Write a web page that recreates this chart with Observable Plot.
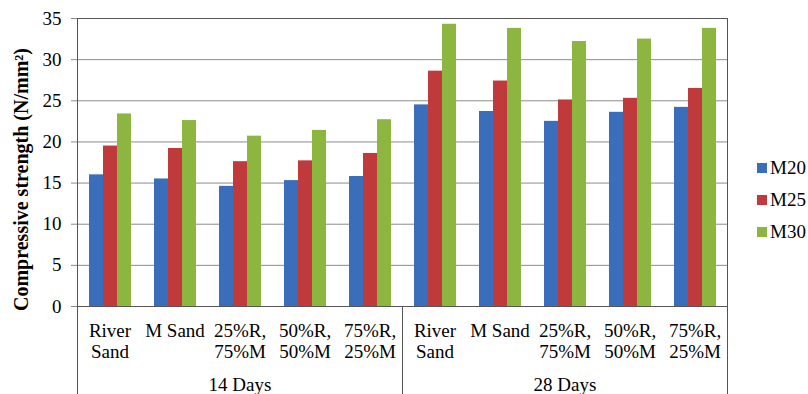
<!DOCTYPE html>
<html><head><meta charset="utf-8">
<script src="https://cdn.jsdelivr.net/npm/d3@7"></script>
<script src="https://cdn.jsdelivr.net/npm/@observablehq/plot@0.6"></script>
<style>
body{margin:0;background:#fff;}
#wrap{position:relative;width:808px;height:394px;overflow:hidden;}
#legend{position:absolute;left:757px;top:152px;font-size:19px;font-family:'Liberation Serif';color:#000;}
.row{display:flex;align-items:center;height:32px;}
.sw{width:10px;height:10px;margin-right:3px;flex:none;}
svg text{font-family:'Liberation Serif';}
</style></head><body><div id="wrap"></div>
<script>
const groups = ["14 Days", "28 Days"];
const categories = ["River\nSand", "M Sand", "25%R,\n75%M", "50%R,\n50%M", "75%R,\n25%M"];
const series = ["M20", "M25", "M30"];
const m20 = [16.0, 15.5, 14.6, 15.3, 15.8, 24.5, 23.7, 22.5, 23.6, 24.2];
const m25 = [19.5, 19.2, 17.6, 17.7, 18.6, 28.6, 27.4, 25.1, 25.3, 26.5];
const m30 = [23.4, 22.6, 20.7, 21.4, 22.7, 34.3, 33.8, 32.2, 32.5, 33.8];
const colors = ["#3a6dba", "#c0393b", "#8db640"];
const yTicks = [0, 5, 10, 15, 20, 25, 30, 35];
const yTitle = "Compressive strength (N/mm²)";

const keys = groups.flatMap(g => categories.map(c => g + "|" + c));
const values = {M20: m20, M25: m25, M30: m30};
const bars = keys.flatMap((k, i) => series.map(s => ({key: k, series: s, value: values[s][i]})));
const labels = keys.map(k => ({key: k, label: k.split("|")[1]}));
const groupLabels = groups.map(g => ({key: g + "|" + categories[2], label: g}));
const font = "Liberation Serif";
const grid = "#8c8c8c", dark = "#555555";

const plot = Plot.plot({
  width: 808, height: 394,
  marginTop: 18, marginBottom: 88, marginLeft: 76, marginRight: 80,
  style: {fontFamily: font, background: "white", overflow: "visible", color: "black"},
  fx: {domain: keys, padding: 0, axis: null},
  x: {domain: series, paddingInner: 0, paddingOuter: 0.78, axis: null},
  y: {domain: [0, 35], axis: null},
  color: {domain: series, range: colors},
  marks: [
    Plot.gridY(yTicks, {stroke: grid, strokeOpacity: 1}),
    Plot.barY(bars, {fx: "key", x: "series", y: "value", fill: "series"}),
    Plot.ruleY([0], {stroke: dark}),
    Plot.ruleY([35], {stroke: dark}),
    Plot.axisY(yTicks, {tickSize: 6, tickPadding: 10, stroke: grid, fill: "black", fontSize: 19, fontFamily: font, label: null}),
    Plot.frame({fx: [keys[0]], anchor: "left", insetBottom: -88, stroke: dark}),
    Plot.frame({fx: [keys[5]], anchor: "left", insetTop: 288, insetBottom: -88, stroke: dark}),
    Plot.frame({fx: [keys[9]], anchor: "right", insetBottom: -88, stroke: dark}),
    Plot.text(labels, {fx: "key", text: "label", frameAnchor: "bottom", lineAnchor: "top", dy: 16, lineHeight: 1.1, fontSize: 19, fontFamily: font, fill: "black"}),
    Plot.text(groupLabels, {fx: "key", text: "label", frameAnchor: "bottom", lineAnchor: "top", dy: 71, fontSize: 19, fontFamily: font, fill: "black"}),
    Plot.text([yTitle], {fx: [keys[0]], text: d => d, frameAnchor: "left", textAnchor: "middle", rotate: -90, dx: -56, dy: 17, fontSize: 20, fontWeight: "bold", fontFamily: font, fill: "black"})
  ]
});
const wrap = document.getElementById("wrap");
wrap.appendChild(plot);
const legend = document.createElement("div");
legend.id = "legend";
series.forEach((s, i) => {
  const row = document.createElement("div");
  row.className = "row";
  const sw = document.createElement("span");
  sw.className = "sw";
  sw.style.background = colors[i];
  const t = document.createElement("span");
  t.textContent = s;
  row.appendChild(sw); row.appendChild(t);
  legend.appendChild(row);
});
wrap.appendChild(legend);
</script></body></html>
